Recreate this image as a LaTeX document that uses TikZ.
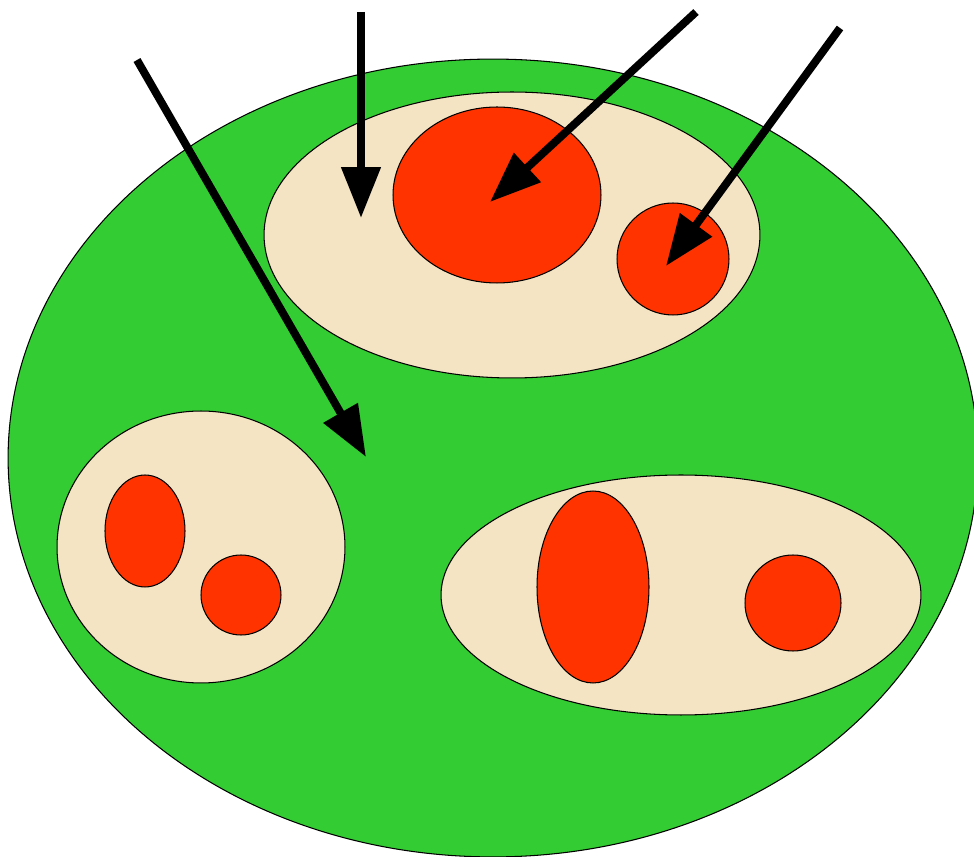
\documentclass[tikz,border=0pt]{standalone}
\usepackage{tikz}
\usetikzlibrary{shapes.geometric,arrows.meta}
\definecolor{cellgreen}{RGB}{51,204,51}
\definecolor{cellbeige}{RGB}{245,228,196}
\definecolor{cellred}{RGB}{255,51,0}

\begin{document}
\begin{tikzpicture}[
  x=0.02cm, y=-0.02cm,
  blob/.style={ellipse, draw=black, line width=0.6pt, inner sep=0pt},
  outer/.style={blob, fill=cellgreen},
  group/.style={blob, fill=cellbeige},
  core/.style={blob, fill=cellred},
  pointer/.style={line width=4.5pt, -{Triangle[length=1.02cm,width=0.76cm]}}
]
\useasboundingbox (0,0) rectangle (974,857);

% outer green region
\node[outer, minimum width=19.4cm, minimum height=15.96cm] (world) at (493,458) {};

% top group
\node[group, minimum width=9.92cm, minimum height=5.72cm] (topgrp) at (512,235) {};
\node[core, minimum width=4.16cm, minimum height=3.52cm] (topbig) at (497,195) {};
\node[core, minimum width=2.24cm, minimum height=2.24cm] (topsmall) at (673,259) {};

% left group
\node[group, minimum width=5.76cm, minimum height=5.44cm] (leftgrp) at (201,547) {};
\node[core, minimum width=1.6cm, minimum height=2.24cm] (leftoval) at (145,531) {};
\node[core, minimum width=1.6cm, minimum height=1.6cm] (leftdot) at (241,595) {};

% right group
\node[group, minimum width=9.6cm, minimum height=4.8cm] (rightgrp) at (681,595) {};
\node[core, minimum width=2.24cm, minimum height=3.84cm] (rightoval) at (593,587) {};
\node[core, minimum width=1.92cm, minimum height=1.92cm] (rightdot) at (793,603) {};

% arrows (free ends)
\coordinate (s1) at (361,12);
\coordinate (t1) at (361,218);
\coordinate (s2) at (696,12);
\coordinate (t2) at (490,202);
\coordinate (s3) at (840,28);
\coordinate (t3) at (666,266);
\coordinate (s4) at (137,60);
\coordinate (t4) at (366,457);
\draw[pointer] (s1) -- (t1);
\draw[pointer] (s2) -- (t2);
\draw[pointer] (s3) -- (t3);
\draw[pointer] (s4) -- (t4);
\end{tikzpicture}
\end{document}
